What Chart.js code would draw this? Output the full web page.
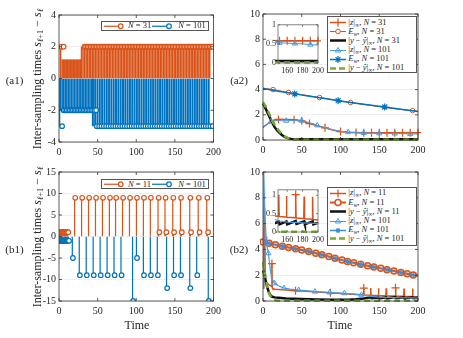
<!DOCTYPE html>
<html><head><meta charset="utf-8">
<script src="https://cdn.jsdelivr.net/npm/chart.js@4.4.1/dist/chart.umd.min.js"></script>
<style>
body{margin:0;background:#fff}
#wrap{position:relative;width:463px;height:338px;overflow:hidden;background:#fff;font-family:'Liberation Serif','Times New Roman',serif;color:#262626}
canvas{position:absolute}
.lbl{position:absolute;white-space:nowrap;transform:translate(-50%,-50%)}
.ylab{position:absolute;font-size:12px;white-space:nowrap;transform:translate(-50%,-50%) rotate(-90deg)}
.leg{position:absolute;background:#fff;border:1px solid #555;box-sizing:border-box}
.it{position:absolute;white-space:nowrap;font-size:8.5px;line-height:9px;height:9px}
.smp{position:absolute;height:9px}
sub{font-size:70%;vertical-align:-2px;line-height:0}
</style></head><body><div id="wrap">
<canvas id="a1"></canvas><canvas id="a2"></canvas><canvas id="b1"></canvas><canvas id="b2"></canvas>
<canvas id="a2i"></canvas><canvas id="b2i"></canvas>
</div>
<script>
// ---------------- DATA ----------------
// (a1) inter-sampling times, N=31 (positive) and N=101 (plotted negative)
const a1N31_t2  = [3,6,33,35,37,39,41,43,45,47,49,51,53,55,57,59,61,63,65,67,69,71,73,75,77,79,81,83,85,87,89,91,93,95,97,99,101,103,105,107,109,111,113,115,117,119,121,123,125,127,129,131,133,135,137,139,141,143,145,147,149,151,153,155,157,159,161,163,165,167,169,171,173,175,177,179,181,183,185,187,189,191,193,195,197,199];
const a1N31_v2  = 2;
const a1N31_t12 = [7,8,9,10,11,12,13,14,15,16,17,18,19,20,21,22,23,24,25,26,27,28,29,30,31,32];
const a1N31_v12 = 1.2;
const a1N101_t3a = [4];
const a1N101_t2  = [6,8,10,12,14,16,18,20,22,24,26,28,30,32,34,36,38,40,42,44,46,48];
const a1N101_v2  = -2;
const a1N101_t3  = [49,52,55,58,61,64,67,70,73,76,79,82,85,88,91,94,97,100,103,106,109,112,115,118,121,124,127,130,133,136,139,142,145,148,151,154,157,160,163,166,169,172,175,178,181,184,187,190,193,196,199];
const a1N101_v3  = -3;
// (b1)
const b1N11_t = [1,2,3,4,5,6,7,8,9,10,11,12,21,30,39,48,57,66,74,83,92,101,110,119,129,130,138,139,148,149,158,159,170,171,181,182,192,193];
const b1N11_v = [1,1,1,1,1,1,1,1,1,1,1,1,9,9,9,9,9,9,9,9,9,9,9,9,9,1,9,1,9,1,9,1,9,1,9,1,9,1];
const b1N101_t = [1,2,3,4,5,6,7,8,9,10,11,12,13,18,27,36,45,54,63,72,81,96,101,110,119,128,140,149,158,170,179,194];
const b1N101_v = [-1,-1,-1,-1,-1,-1,-1,-1,-1,-1,-1,-1,-1,-5,-9,-9,-9,-9,-9,-9,-9,-15,-5,-9,-9,-9,-12,-9,-9,-12,-9,-15];
// (a2)
const a2_zN31_t = [0,5,10,15,20,30,40,50,60,70,80,90,100,110,120,130,140,150,160,170,180,190,200];
const a2_zN31_v = [1.0,1.25,1.45,1.58,1.63,1.62,1.6,1.52,1.3,1.13,0.97,0.8,0.67,0.61,0.59,0.58,0.58,0.58,0.58,0.58,0.58,0.58,0.58];
const a2_zN31_mk = [20,40,50,60,80,100,120,130,140,150,160,170,180,190,200];
const a2_EN31_t = [0,13,33,50,73,90,113,130,150,170,193,200];
const a2_EN31_v = [4.12,4.0,3.77,3.6,3.37,3.2,2.97,2.82,2.65,2.48,2.33,2.28];
const a2_EN31_mk = [13,33,73,113,193];
const a2_yN31_t = [0,3,6,9,12,15,18,21,24,27,30,33,36,40,50,70,100,130,160,200];
const a2_yN31_v = [2.9,2.55,2.15,1.75,1.35,1.02,0.78,0.58,0.42,0.28,0.19,0.13,0.09,0.06,0.05,0.05,0.05,0.05,0.05,0.05];
const a2_zN101_t = [0,5,10,15,20,30,40,50,60,70,80,90,100,110,120,130,140,150,160,170,180,190,200];
const a2_zN101_v = [1.0,1.22,1.45,1.52,1.54,1.53,1.55,1.53,1.38,1.16,0.96,0.8,0.69,0.62,0.58,0.56,0.55,0.53,0.52,0.51,0.5,0.48,0.47];
const a2_zN101_mk = [10,30,50,70,110,130,150,170,190];
const a2_EN101_t = [0,20,41,60,80,97,120,140,157,180,200];
const a2_EN101_v = [4.08,3.87,3.66,3.48,3.29,3.12,2.91,2.75,2.62,2.43,2.26];
const a2_EN101_mk = [41,97,157];
const a2_yN101_t = [0,3,6,9,12,15,18,21,24,27,30,33,36,40,50,70,100,130,160,200];
const a2_yN101_v = [3.0,2.7,2.35,1.95,1.58,1.22,0.95,0.7,0.5,0.34,0.22,0.13,0.07,0.03,0.01,0.01,0.01,0.01,0.01,0.01];
// (b2)
const b2_zN11_t = [0,1,2,3,5,8,11,11.5,12,12.5,16,20,30,42,50,60,70,80,87,100,110,120,128,129.5,130,130.5,138.5,139,139.5,148.5,149,149.5,158.5,159,159.5,170.5,171,171.5,181.5,182,182.5,192.5,193,193.5,200];
const b2_zN11_v = [1.0,3.5,7.2,1.6,1.4,1.25,1.15,2.9,1.0,0.95,0.92,0.9,0.85,0.8,0.77,0.73,0.69,0.65,0.63,0.59,0.55,0.51,0.48,0.47,1.0,0.46,0.45,1.0,0.44,0.43,0.98,0.42,0.41,0.98,0.4,0.39,1.02,0.38,0.37,0.97,0.36,0.35,0.96,0.34,0.33];
const b2_zN11_mk = [11.5,42,87,130,171];
const b2_EN11_t = [0,8,16,25,33,42,50,59,68,76,85,93,102,109,117,126,135,143,152,160,169,178,186,194,200];
const b2_EN11_v = [4.58,4.48,4.37,4.25,4.15,4.05,3.95,3.83,3.7,3.58,3.44,3.31,3.17,3.07,2.96,2.84,2.73,2.64,2.53,2.43,2.32,2.21,2.11,2.02,1.95];
const b2_EN11_mk = [0,8,16,25,33,42,50,59,68,76,85,93,102,109,117,126,135,143,152,160,169,178,186,194];
const b2_yN11_t = [0,2,4,6,8,10,12,15,20,30,50,70,90,110,120,130,139,140,149,150,159,160,171,172,182,183,193,194,200];
const b2_yN11_v = [2.35,2.0,1.4,0.95,0.6,0.42,0.33,0.28,0.25,0.2,0.15,0.12,0.1,0.1,0.13,0.2,0.28,0.21,0.28,0.21,0.29,0.21,0.3,0.22,0.29,0.21,0.29,0.21,0.25];
const b2_zN101_t = [0,1,2,3,4,5,7,9,11,15,20,27,35,46,55,67,75,86,95,105,115,127,140,150,160,170,180,190,200];
const b2_zN101_v = [1.0,10,7.6,6.0,5.0,4.3,3.7,2.6,1.8,1.37,1.18,1.0,0.92,0.85,0.8,0.73,0.7,0.66,0.63,0.6,0.55,0.48,0.36,0.3,0.27,0.26,0.25,0.24,0.23];
const b2_zN101_mk = [7,15,27,46,67,86,105,127];
const b2_EN101_t = [0,8,16,25,33,42,50,59,68,76,85,93,102,109,117,126,135,143,152,160,169,178,186,194,200];
const b2_EN101_v = [4.57,4.47,4.36,4.24,4.14,4.04,3.94,3.82,3.69,3.57,3.43,3.3,3.16,3.06,2.95,2.83,2.72,2.63,2.52,2.42,2.31,2.2,2.1,2.01,1.94];
const b2_EN101_mk = [8,25,42,59,76,93,109,126,143,160,178,194];
const b2_yN101_t = [0,2,4,6,8,10,13,16,20,30,60,100,150,200];
const b2_yN101_v = [3.0,2.3,1.6,1.0,0.6,0.35,0.15,0.06,0.02,0.01,0.01,0.01,0.01,0.01];
// ticks
const xTicksInset = [160,180,200];
const yTicksInset = [0,0.5,1];

// ---------------- STYLE ----------------
const ORANGE='#D95319', BLUE='#0072BD', LBLUE='#4A9BE0', EBLUE='#3D8CD6', GREEN='#77AC30', BLACK='#111';
Chart.defaults.font.family="'Liberation Serif','Times New Roman',serif";
Chart.defaults.font.size=10;
Chart.defaults.color='#262626';

const framePlugin={id:'frame',
  beforeDraw(c,a,o){ if(o.bg){const ca=c.chartArea,ctx=c.ctx;ctx.save();ctx.fillStyle='#fff';ctx.fillRect(ca.left,ca.top,ca.right-ca.left,ca.bottom-ca.top);ctx.restore();}},
  afterDraw(c,a,o){const ca=c.chartArea,ctx=c.ctx,sx=c.scales.x,sy=c.scales.y;ctx.save();
    ctx.strokeStyle=o.color||'#333';ctx.lineWidth=o.lw||0.8;
    ctx.strokeRect(ca.left,ca.top,ca.right-ca.left,ca.bottom-ca.top);
    const L=o.tick||3;ctx.beginPath();
    sx.ticks.forEach(t=>{const p=sx.getPixelForValue(t.value);ctx.moveTo(p,ca.bottom);ctx.lineTo(p,ca.bottom-L);ctx.moveTo(p,ca.top);ctx.lineTo(p,ca.top+L);});
    sy.ticks.forEach(t=>{const p=sy.getPixelForValue(t.value);ctx.moveTo(ca.left,p);ctx.lineTo(ca.left+L,p);ctx.moveTo(ca.right,p);ctx.lineTo(ca.right-L,p);});
    ctx.stroke();ctx.restore();}};

function axis(min,max,step,fit,isY,fs,grid,pad,ticksList){
  return {type:'linear',min,max,offset:false,stacked:false,
    ticks:{stepSize:step,autoSkip:false,maxRotation:0,minRotation:0,padding:pad,includeBounds:false,font:{size:fs},color:'#262626',
      callback:(v)=>String(v)},
    afterBuildTicks: ticksList? (s)=>{s.ticks=ticksList.map(v=>({value:v}));}:undefined,
    grid:{display:!!grid,drawOnChartArea:!!grid,drawTicks:false,color:'#e4e4e4',lineWidth:0.6},
    border:{display:false},
    afterFit(s){ if(isY) s.width=fit; else s.height=fit; }};
}
function place(id,l,t,w,h){const cv=document.getElementById(id);cv.style.left=l+'px';cv.style.top=t+'px';cv.width=w;cv.height=h;cv.style.width=w+'px';cv.style.height=h+'px';return cv;}
function chart(id,box,pad,type,datasets,sx,sy,frameOpt){
  const cv=place(id,...box);
  return new Chart(cv,{type,data:{datasets},plugins:[framePlugin],options:{
    responsive:false,animation:false,events:[],devicePixelRatio:1,
    layout:{padding:{top:pad[0],right:pad[1],bottom:0,left:0}},
    plugins:{legend:{display:false},tooltip:{enabled:false},frame:frameOpt||{}},
    scales:{x:sx,y:sy}}});
}
const pts=(t,v)=>t.map((x,i)=>({x,y:Array.isArray(v)?v[i]:v}));
const stem=(t,v,c,w)=>({type:'bar',data:pts(t,v),backgroundColor:c,borderWidth:0,barThickness:w,inflateAmount:0,stack:'s',order:5});
const mark=(t,v,c,r)=>({type:'scatter',data:pts(t,v),pointRadius:r,pointStyle:'circle',pointBackgroundColor:'#fff',pointBorderColor:c,pointBorderWidth:1.2,showLine:false,order:1});
function line(t,v,c,w,o){o=o||{};const mk=o.mk||[];
  return {type:'scatter',showLine:true,data:pts(t,v),borderColor:c,borderWidth:w,borderDash:o.dash||[],
    pointRadius:(ctx)=>(ctx.raw&&mk.includes(ctx.raw.x))?(o.r||3):0,pointStyle:o.ps||'circle',
    pointBorderColor:c,pointBackgroundColor:o.fill||'rgba(0,0,0,0)',pointBorderWidth:o.pw||1,
    order:o.order,clip:o.clip!==undefined?o.clip:3};}

// ---------------- (a1) ----------------
chart('a1',[20,5,205,155],[10,10],'bar',[
  mark(a1N31_t2,a1N31_v2,ORANGE,2.3),
  mark(a1N101_t3a,a1N101_v3,BLUE,2.3),
  mark(a1N101_t2,a1N101_v2,BLUE,2.3),
  mark(a1N101_t3,a1N101_v3,BLUE,2.3),
  stem(a1N31_t2,a1N31_v2,ORANGE,1.5),
  stem(a1N31_t12,a1N31_v12,ORANGE,1.2),
  stem(a1N101_t3a,a1N101_v3,BLUE,1.2),
  stem(a1N101_t2,a1N101_v2,BLUE,1.5),
  stem(a1N101_t3,a1N101_v3,BLUE,2.0)
], axis(0,200,50,18,false,10,false,4), axis(-4,4,2,39,true,10,true,3));

// ---------------- (b1) ----------------
chart('b1',[20,162,205,157],[10,10],'bar',[
  mark(b1N11_t,b1N11_v,ORANGE,2.3),
  mark(b1N101_t,b1N101_v,BLUE,2.3),
  stem(b1N11_t,b1N11_v,ORANGE,1.2),
  stem(b1N101_t,b1N101_v,BLUE,1.2)
], axis(0,200,50,18,false,10,false,4), axis(-15,15,5,39,true,10,true,3));

// ---------------- (a2) ----------------
function a2sets(){return [
  line(a2_yN101_t,a2_yN101_v,GREEN,2.5,{dash:[6,4],order:0}),
  line(a2_EN101_t,a2_EN101_v,BLUE,1.5,{mk:a2_EN101_mk,ps:'star',r:3.5,pw:1.2,order:1}),
  line(a2_zN101_t,a2_zN101_v,LBLUE,1,{mk:a2_zN101_mk,ps:'triangle',r:3,pw:1,order:2}),
  line(a2_yN31_t,a2_yN31_v,BLACK,2.5,{order:3}),
  line(a2_EN31_t,a2_EN31_v,ORANGE,1,{mk:a2_EN31_mk,ps:'circle',r:2.3,pw:1,order:4}),
  line(a2_zN31_t,a2_zN31_v,ORANGE,1.5,{mk:a2_zN31_mk,ps:'cross',r:4,pw:1.2,order:5})
];}
chart('a2',[230,4,200,154],[10,12],'scatter',a2sets(),
  axis(0,200,50,18,false,10,false,4), axis(0,10,2,33,true,10,true,3));
chart('a2i',[262,18,65,59],[5,6],'scatter',a2sets(),
  axis(148,200,20,14,false,8,false,3,xTicksInset), axis(0,1,0.5,16,true,8,false,2,yTicksInset),{bg:true,color:'#666',tick:2});

// ---------------- (b2) ----------------
function b2sets(){return [
  line(b2_yN101_t,b2_yN101_v,GREEN,2.5,{dash:[6,4],order:0}),
  line(b2_EN101_t,b2_EN101_v,EBLUE,1,{mk:b2_EN101_mk,ps:'star',r:2.5,pw:1,order:1}),
  line(b2_zN101_t,b2_zN101_v,LBLUE,1.2,{mk:b2_zN101_mk,ps:'triangle',r:3,pw:1,order:2}),
  line(b2_yN11_t,b2_yN11_v,BLACK,2.5,{order:3}),
  line(b2_EN11_t,b2_EN11_v,ORANGE,2,{mk:b2_EN11_mk,ps:'circle',r:3,pw:1.5,fill:'rgba(217,83,25,0.25)',order:4}),
  line(b2_zN11_t,b2_zN11_v,ORANGE,1.5,{mk:b2_zN11_mk,ps:'cross',r:4,pw:1.2,order:5})
];}
chart('b2',[230,162,200,157],[10,12],'scatter',b2sets(),
  axis(0,200,50,18,false,10,false,4), axis(0,10,2,33,true,10,true,3));
chart('b2i',[262,183,65,63],[5,6],'scatter',b2sets(),
  axis(148,200,20,14,false,8,false,3,xTicksInset), axis(0,1.15,0.5,16,true,8,false,2,yTicksInset),{bg:true,color:'#666',tick:2});

// ---------------- TEXT / LEGENDS ----------------
const wrap=document.getElementById('wrap');
function add(html,cls,css){const d=document.createElement('div');d.className=cls;d.innerHTML=html;Object.assign(d.style,css);wrap.appendChild(d);return d;}
const YL='Inter-sampling times <i>s</i><sub><i>ℓ</i>+1</sub> − <i>s</i><sub><i>ℓ</i></sub>';
add(YL,'ylab',{left:'37px',top:'79px'});
add(YL,'ylab',{left:'37px',top:'237px'});
add('(a1)','lbl',{left:'14.5px',top:'80px',fontSize:'11px'});
add('(a2)','lbl',{left:'239px',top:'80px',fontSize:'11px'});
add('(b1)','lbl',{left:'14.5px',top:'249px',fontSize:'11px'});
add('(b2)','lbl',{left:'239px',top:'249px',fontSize:'11px'});
add('Time','lbl',{left:'137px',top:'325px',fontSize:'12px'});
add('Time','lbl',{left:'340px',top:'325px',fontSize:'12px'});

function svgSample(w,h,o){const cy=h/2;let s=`<svg width="${w}" height="${h}" style="position:absolute;left:0;top:0;overflow:visible">`;
  s+=`<line x1="0" y1="${cy}" x2="${w}" y2="${cy}" stroke="${o.c}" stroke-width="${o.lw}" ${o.dash?`stroke-dasharray="${o.dash}"`:''}/>`;
  const mx=o.mx!==undefined?o.mx:w/2,r=o.r||2.5,sw=o.mw||1;
  if(o.m==='circle')s+=`<circle cx="${mx}" cy="${cy}" r="${r}" fill="${o.fill||'#fff'}" stroke="${o.c}" stroke-width="${sw}"/>`;
  if(o.m==='plus')s+=`<path d="M${mx-r} ${cy}H${mx+r}M${mx} ${cy-r}V${cy+r}" stroke="${o.c}" stroke-width="${sw}"/>`;
  if(o.m==='tri')s+=`<polygon points="${mx},${cy-r} ${mx-r*0.87},${cy+r*0.5} ${mx+r*0.87},${cy+r*0.5}" fill="none" stroke="${o.c}" stroke-width="${sw}"/>`;
  if(o.m==='star'){const d=r*0.7;s+=`<path d="M${mx-r} ${cy}H${mx+r}M${mx} ${cy-r}V${cy+r}M${mx-d} ${cy-d}L${mx+d} ${cy+d}M${mx-d} ${cy+d}L${mx+d} ${cy-d}" stroke="${o.c}" stroke-width="${sw}"/>`;}
  return s+'</svg>';}

function stemLegend(top,n1,n2){
  const L=add('','leg',{left:'101px',top:top+'px',width:'108px',height:'10px'});
  const items=[[2.3,16.7,ORANGE,`<i>N</i> = ${n1}`,26],[50,17,BLUE,`<i>N</i> = ${n2}`,76.3]];
  items.forEach(([x,w,c,txt,tx])=>{
    const s=document.createElement('div');s.className='smp';Object.assign(s.style,{left:x+'px',top:'0px',width:w+'px'});
    s.innerHTML=svgSample(w,8.5,{c,lw:1.2,m:'circle',mx:w,r:2.3,mw:1.2});L.appendChild(s);
    const t=document.createElement('div');t.className='it';t.innerHTML=txt;Object.assign(t.style,{left:tx+'px',top:'-0.5px'});L.appendChild(t);
  });
}
stemLegend(20.5,31,101);
stemLegend(179,11,101);

function lineLegend(left,top,h,rows,N1){
  const L=add('','leg',{left:left+'px',top:top+'px',width:'90px',height:h+'px'});
  const defs=[
    {c:ORANGE,lw:1.5,m:'plus',r:4,mw:1.2,txt:`|<i>z</i>|<sub>∞</sub>, <i>N</i> = ${N1}`},
    {c:ORANGE,lw:N1==11?2:1,m:'circle',r:N1==11?3:2.3,mw:N1==11?1.5:1,txt:`<i>E</i><sub><i>w</i></sub>, <i>N</i> = ${N1}`},
    {c:BLACK,lw:2.5,m:null,txt:`|<i>y</i> − <i>ŷ</i>|<sub>∞</sub>, <i>N</i> = ${N1}`},
    {c:LBLUE,lw:1,m:'tri',r:3,mw:1,txt:`|<i>z</i>|<sub>∞</sub>, <i>N</i> = 101`},
    {c:N1==11?EBLUE:BLUE,lw:1.5,m:'star',r:N1==11?2.5:3.5,mw:1.2,txt:`<i>E</i><sub><i>w</i></sub>, <i>N</i> = 101`},
    {c:GREEN,lw:2.5,m:null,dash:'6 3',txt:`|<i>y</i> − <i>ŷ</i>|<sub>∞</sub>, <i>N</i> = 101`}];
  defs.forEach((d,i)=>{const cy=rows[i];
    const s=document.createElement('div');s.className='smp';Object.assign(s.style,{left:'2.3px',top:(cy-4.5)+'px',width:'16px'});
    s.innerHTML=svgSample(16,9,d);L.appendChild(s);
    const t=document.createElement('div');t.className='it';t.innerHTML=d.txt;Object.assign(t.style,{left:'20.5px',top:(cy-5)+'px'});L.appendChild(t);});
}
lineLegend(326.7,16,57.3,[5.8,14.8,23.8,33,42.2,51.4],31);
lineLegend(326.7,186.7,59,[5.6,15,24.2,33.5,42.4,51.2],11);
</script></body></html>
